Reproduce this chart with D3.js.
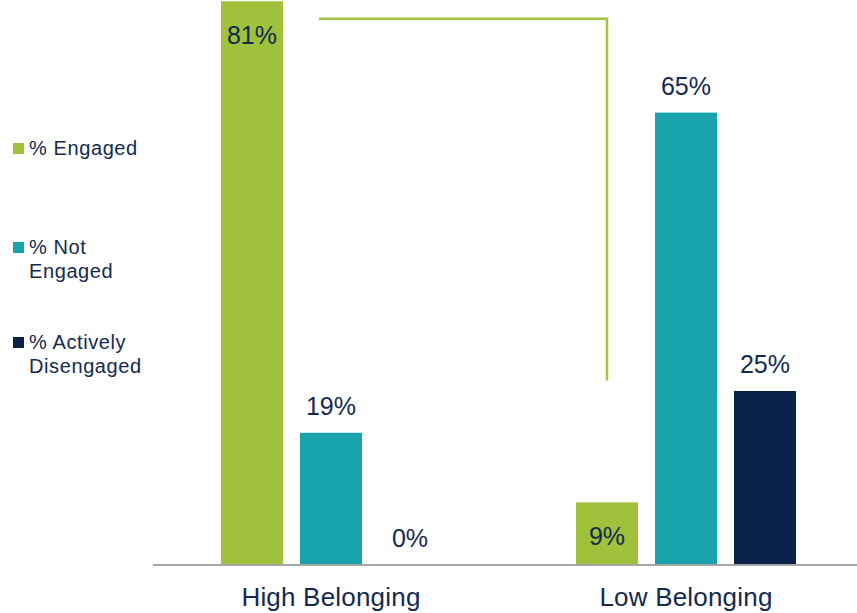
<!DOCTYPE html>
<html><head><meta charset="utf-8">
<script src="https://cdn.jsdelivr.net/npm/d3@7"></script>
<style>body{margin:0;background:#fff}svg{display:block}text{font-family:"Liberation Sans",Arial,sans-serif}</style>
</head><body><svg id="c" width="857" height="613"></svg>
<script>
const categories = ["High Belonging", "Low Belonging"];
const seriesNames = ["% Engaged", "% Not Engaged", "% Actively Disengaged"];
const engaged = [81, 9];
const notEngaged = [19, 65];
const disengaged = [0, 25];
const legendLines = [["% Engaged"], ["% Not", "Engaged"], ["% Actively", "Disengaged"]];
const colors = ["#9fc13c", "#19a3ad", "#08224a"];
const textColor = "#132a50";

const svg = d3.select("#c");
const baseY = 565;
const x0 = d3.scaleBand().domain(categories).range([153.5, 863.5]).padding(0);
const groupW = 237;
const x1 = d3.scaleBand().domain(seriesNames).range([0, groupW]).paddingInner(0.215).paddingOuter(0.1075);
const y = d3.scaleLinear().domain([0, 100]).range([baseY, baseY - 696]);

const series = [engaged, notEngaged, disengaged];
const data = [];
categories.forEach((c, ci) => series.forEach((s, si) => data.push({c, name: seriesNames[si], si, v: s[ci]})));
const gx = c => x0(c) + (x0.bandwidth() - groupW) / 2;

svg.selectAll("rect.bar").data(data).enter().append("rect")
  .attr("class", "bar")
  .attr("x", d => gx(d.c) + x1(d.name))
  .attr("width", x1.bandwidth())
  .attr("y", d => y(d.v))
  .attr("height", d => baseY - y(d.v))
  .attr("fill", d => colors[d.si]);

// axis baseline
svg.append("line").attr("x1", 153).attr("x2", 857).attr("y1", baseY).attr("y2", baseY)
  .attr("stroke", "#a6a6a6").attr("stroke-width", 2);

// value labels
svg.selectAll("text.val").data(data).enter().append("text")
  .attr("class", "val")
  .attr("x", d => gx(d.c) + x1(d.name) + x1.bandwidth() / 2)
  .attr("y", d => d.si === 0 ? y(d.v) + 43 : y(d.v) - 18)
  .attr("text-anchor", "middle")
  .attr("font-size", 25)
  .attr("fill", textColor)
  .text(d => d.v + "%");

// category labels
svg.selectAll("text.cat").data(categories).enter().append("text")
  .attr("class", "cat")
  .attr("x", d => x0(d) + x0.bandwidth() / 2)
  .attr("y", 606)
  .attr("text-anchor", "middle")
  .attr("font-size", 26)
  .attr("letter-spacing", 0.2)
  .attr("fill", textColor)
  .text(d => d);

// bracket annotation
const bx1 = gx(categories[0]) + x1(seriesNames[1]) + 19;
const bx2 = gx(categories[1]) + x1(seriesNames[0]) + x1.bandwidth() / 2;
svg.append("path")
  .attr("d", `M${bx1},${y(78.5)}H${bx2}V${y(26.5)}`)
  .attr("fill", "none").attr("stroke", "#a3c640").attr("stroke-width", 2.5);

// legend
const legTop = [143, 242, 337];
const leg = svg.selectAll("g.leg").data(legendLines).enter().append("g").attr("class", "leg");
leg.append("rect").attr("x", 13).attr("y", (d, i) => legTop[i]).attr("width", 11).attr("height", 11)
  .attr("fill", (d, i) => colors[i]);
leg.each(function(lines, i) {
  const g = d3.select(this);
  lines.forEach((t, j) => g.append("text").attr("x", 29).attr("y", legTop[i] + 12 + j * 23.5)
    .attr("font-size", 20).attr("letter-spacing", 0.6).attr("fill", textColor).text(t));
});
</script></body></html>
